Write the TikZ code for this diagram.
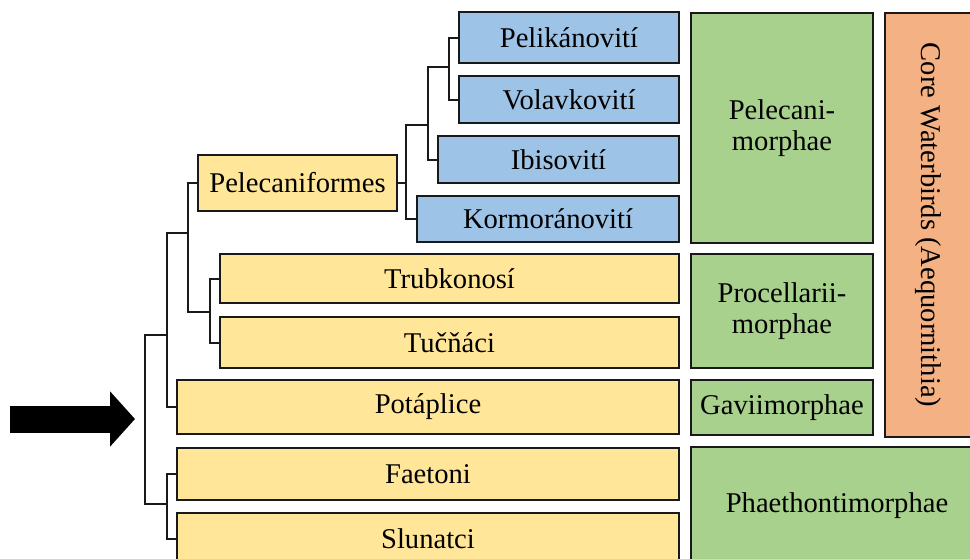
\documentclass[tikz,border=0pt]{standalone}
\usepackage{fontspec}
\setmainfont{Liberation Serif}
\usetikzlibrary{arrows.meta}

\definecolor{famblue}{HTML}{9DC3E6}
\definecolor{ordyellow}{HTML}{FFE699}
\definecolor{grpgreen}{HTML}{A9D18E}
\definecolor{coreorange}{HTML}{F4B183}

\begin{document}
\begin{tikzpicture}[x=0.5pt,y=-0.5pt,
		box/.style={draw=black!90,line width=1pt,inner sep=0pt,align=center,
			font=\fontsize{14.3}{15.5}\selectfont},
		fam/.style={box,fill=famblue},
		ord/.style={box,fill=ordyellow},
		grp/.style={box,fill=grpgreen},
		branch/.style={line width=1pt,draw=black!90}]
		\useasboundingbox (0,0) rectangle (970,558);
		\clip (0,0) rectangle (970,558);
		% families
		\node[fam,minimum width=110pt,minimum height=25.5pt] (pel) at (569,37.5) {Pelikánovití};
		\node[fam,minimum width=110pt,minimum height=23.5pt] (vol) at (569,99.5) {Volavkovití};
		\node[fam,minimum width=120.5pt,minimum height=23.5pt] (ibi) at (558.5,159.5) {Ibisovití};
		\node[fam,minimum width=131pt,minimum height=23pt] (kor) at (548,219) {Kormoránovití};
		% orders
		\node[ord,minimum width=99.5pt,minimum height=28pt] (pelf) at (297.5,183) {Pelecaniformes};
		\node[ord,minimum width=229.5pt,minimum height=24.5pt] (trub) at (449.5,278.5) {Trubkonosí};
		\node[ord,minimum width=229.5pt,minimum height=25.5pt] (tuc) at (449.5,342.5) {Tučňáci};
		\node[ord,minimum width=251pt,minimum height=27pt] (pot) at (428,407) {Potáplice};
		\node[ord,minimum width=251pt,minimum height=26pt] (fae) at (428,474) {Faetoni};
		\node[ord,minimum width=251pt,minimum height=26pt] (slu) at (428,539) {Slunatci};
		% groups
		\node[grp,minimum width=91pt,minimum height=115pt] (pelm) at (782,128) {Pelecani-\\morphae};
		\node[grp,minimum width=91pt,minimum height=57pt] (prom) at (782,311) {Procellarii-\\morphae};
		\node[grp,minimum width=91pt,minimum height=27.5pt] (gavm) at (782,407.5) {Gaviimorphae};
		\node[grp,minimum width=146pt,minimum height=59pt] (phem) at (837,506) {Phaethontimorphae};
		\node[box,fill=coreorange,rotate=-90,minimum width=212pt,minimum height=43pt] (core) at (928,225) {Core Waterbirds (Aequornithia)};
		%
		\coordinate (n1) at (449,67);
		\coordinate (n2) at (428,125);
		\coordinate (n3) at (406,183);
		\coordinate (n4) at (188,233);
		\coordinate (n5) at (210,312);
		\coordinate (n6) at (167,335);
		\coordinate (n7) at (167,504);
		\coordinate (root) at (145,419);
		\coordinate (tail) at (10,419);
		% branches
		\draw[branch] (pel.west) -| (n1) |- (vol.west);
		\draw[branch] (n1) -| (n2) |- (ibi.west);
		\draw[branch] (n2) -| (n3) |- (kor.west);
		\draw[branch] (pelf.east) -- (n3);
		\draw[branch] (trub.west) -| (n5) |- (tuc.west);
		\draw[branch] (pelf.west) -| (n4) |- (n5);
		\draw[branch] (n4) -| (n6) |- (pot.west);
		\draw[branch] (fae.west) -| (n7) |- (slu.west);
		\draw[branch] (n6) -| (root) |- (n7);
		% arrow
		\draw[line width=13.5pt,-{Triangle[length=12.5pt,width=27pt]},shorten >=5pt] (tail) -- (root);
	\end{tikzpicture}
\end{document}
